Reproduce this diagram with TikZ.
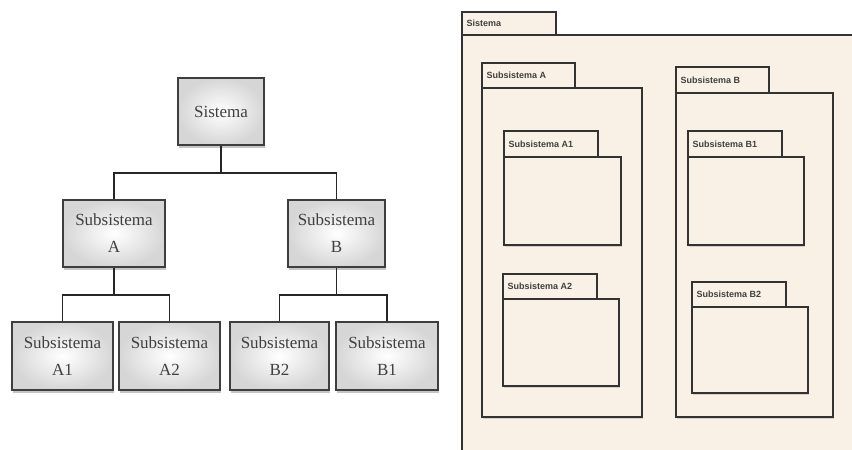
\documentclass[tikz,border=0pt]{standalone}
\usepackage{fontspec}
\setmainfont{Liberation Serif}
\newfontfamily\tabfont{Liberation Sans}
\usetikzlibrary{shadows}
\definecolor{paper}{RGB}{249,241,230}
\definecolor{edge}{RGB}{62,62,62}
\definecolor{ink}{RGB}{64,64,64}

% UML-style package: #1 name, #2 label, #3 left x, #4 tab top, #5 tab right,
% #6 body top, #7 body right, #8 body bottom
\newcommand\umlpkg[8]{%
  \draw[pkg] (#3,#6) rectangle (#7,#8);
  \draw[pkgtab] (#3,#4) rectangle (#5,#6);
  \node[pkglabel] (#1) at (#3+4.5,{(#4+#6)/2}) {#2};
}

\begin{document}
\begin{tikzpicture}[x=1pt,y=-1pt,
  orgbox/.style={draw=edge, line width=1.8pt, inner color=white, outer color=gray!32,
    drop shadow={shadow xshift=1pt, shadow yshift=-2.5pt, opacity=0.45},
    font=\fontsize{17}{27}\selectfont, text=ink, align=center, inner sep=0pt},
  link/.style={draw=black!85, line width=1.5pt},
  pkg/.style={draw=black!80, line width=1.4pt, fill=paper,
    drop shadow={shadow xshift=1pt, shadow yshift=-1.5pt, opacity=0.3}},
  pkgtab/.style={draw=black!80, line width=1.4pt, fill=paper},
  pkglabel/.style={anchor=west, font=\tabfont\bfseries\fontsize{9}{10}\selectfont,
    text=black!75, inner sep=0pt}
]
\useasboundingbox (0,0) rectangle (852,450);

% ---- hierarchy tree ----
\node[orgbox, minimum width=86pt, minimum height=67pt] (sys) at (221,111.5) {Sistema};
\node[orgbox, minimum width=102pt, minimum height=67pt] (A) at (114,233.5) {Subsistema\\A};
\node[orgbox, minimum width=97pt, minimum height=67pt] (B) at (336.5,233.5) {Subsistema\\B};
\node[orgbox, minimum width=101pt, minimum height=68pt] (A1) at (62.5,356) {Subsistema\\A1};
\node[orgbox, minimum width=101pt, minimum height=68pt] (A2) at (169.5,356) {Subsistema\\A2};
\node[orgbox, minimum width=99pt, minimum height=68pt] (B2) at (279.5,356) {Subsistema\\B2};
\node[orgbox, minimum width=102pt, minimum height=68pt] (B1) at (387,356) {Subsistema\\B1};

\coordinate (busS) at (221,173);
\coordinate (busA) at (114,295);
\coordinate (busB) at (336.5,295);

\draw[link] (sys.south) -- (busS);
\draw[link] (A.north) |- (busS) -| (B.north);
\draw[link] (A.south) -- (busA);
\draw[link] (A1.north) |- (busA) -| (A2.north);
\draw[link] (B.south) -- (busB);
\draw[link] (B2.north) |- (busB) -| (B1.north);

% ---- package view ----
\fill[paper] (462,12) rectangle (556,35);
\fill[paper] (462,35) rectangle (852,450);
\draw[black!80, line width=1.4pt] (462,35) rectangle (556,12);
\draw[black!80, line width=1.4pt] (852,35) -- (462,35) -- (462,450);
\node[pkglabel] (pS) at (466.5,23.5) {Sistema};

\umlpkg{pA}{Subsistema A}{482}{63}{575}{88}{642}{417}
\umlpkg{pB}{Subsistema B}{676}{67}{769}{93}{833}{417}
\umlpkg{pA1}{Subsistema A1}{504}{131}{598}{157}{621}{245}
\umlpkg{pB1}{Subsistema B1}{688}{131}{782}{157}{804}{245}
\umlpkg{pA2}{Subsistema A2}{503}{274}{597}{299}{619}{386}
\umlpkg{pB2}{Subsistema B2}{692}{282}{786}{307}{808}{393}
\end{tikzpicture}
\end{document}
